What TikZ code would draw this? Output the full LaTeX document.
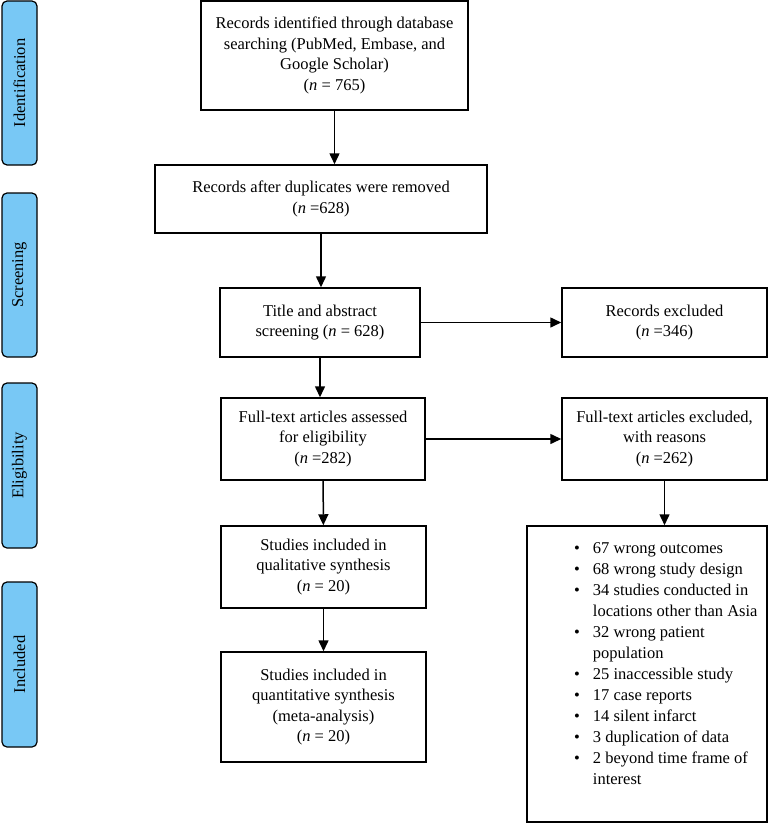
\documentclass[tikz,border=0pt]{standalone}
\usepackage{fontspec}
\setmainfont{Liberation Serif}
\usetikzlibrary{arrows.meta}
\definecolor{phasecol}{RGB}{120,200,245}

\begin{document}
\begin{tikzpicture}[x=1pt,y=-1pt,>={Triangle[length=11pt,width=10pt]}]
		\tikzstyle{box}=[draw,line width=1.5pt,align=center,inner sep=2pt,
							font=\fontsize{16.5}{20.5}\selectfont]
		\tikzstyle{phase}=[draw,fill=phasecol,rounded corners=5pt,line width=1.2pt,
							rotate=90,minimum height=35pt,inner sep=0pt,
							font=\fontsize{16.5}{20}\selectfont]
		\tikzstyle{line}=[->,line width=1.5pt]

		\useasboundingbox (0,0) rectangle (768,824);

		% phases
		\foreach \name/\y/\len in {Identification/83/164, Screening/275/164,
				Eligibility/465.5/165, Included/664.5/165}
			\node[phase, minimum width=\len pt] (\name) at (19.5,\y) {\name};

		% main column
		\node[box, minimum width=267pt, minimum height=109pt] (records) at (334.5,55.5)
			{Records identified through database\\searching (PubMed, Embase, and\\Google Scholar)\\(\textit{n} = 765)};
		\node[box, minimum width=332pt, minimum height=68pt] (dup) at (321,199)
			{Records after duplicates were removed\\(\textit{n} =628)};
		\node[box, minimum width=200pt, minimum height=69pt] (title) at (320,322.5)
			{Title and abstract\\screening (\textit{n} = 628)};
		\node[box, minimum width=204pt, minimum height=82pt] (full) at (323,439)
			{Full-text articles assessed\\for eligibility\\(\textit{n} =282)};
		\node[box, minimum width=205pt, minimum height=82pt] (qual) at (323.5,567)
			{Studies included in\\qualitative synthesis\\(\textit{n} = 20)};
		\node[box, minimum width=205pt, minimum height=110pt] (quant) at (323.5,707)
			{Studies included in\\quantitative synthesis\\(meta-analysis)\\(\textit{n} = 20)};

		% excluded
		\node[box, minimum width=205pt, minimum height=69pt] (recexcl) at (664.5,322.5)
			{Records excluded\\(\textit{n} =346)};
		\node[box, minimum width=205pt, minimum height=82pt] (ftexcl) at (664.5,439)
			{Full-text articles excluded,\\with reasons\\(\textit{n} =262)};
		\node[box, minimum width=240pt, minimum height=296pt] (reasons) at (647,674) {};
		\node[anchor=north west, inner sep=0pt, align=left,
			font=\fontsize{16.5}{21}\selectfont] (reasonlist) at (574,539)
			{\begin{tabular}{@{}l@{\hspace{13pt}}l@{}}
				\textbullet & 67 wrong outcomes\\
				\textbullet & 68 wrong study design\\
				\textbullet & 34 studies conducted in\\
				 & locations other than Asia\\
				\textbullet & 32 wrong patient\\
				 & population\\
				\textbullet & 25 inaccessible study\\
				\textbullet & 17 case reports\\
				\textbullet & 14 silent infarct\\
				\textbullet & 3 duplication of data\\
				\textbullet & 2 beyond time frame of\\
				 & interest
			\end{tabular}};

		% edges
		\draw[line] (records) -- (records |- dup.north);
		\draw[line] (dup) -- (dup |- title.north);
		\draw[line] (title) -- (title |- full.north);
		\draw[line] (full) -- (qual);
		\draw[line] (qual) -- (quant);
		\draw[line] (title.east) -- (title.east -| recexcl.west);
		\draw[line] (full.east) -- (full.east -| ftexcl.west);
		\draw[line] (ftexcl.south) -- (ftexcl.south |- reasons.north);
\end{tikzpicture}
\end{document}
